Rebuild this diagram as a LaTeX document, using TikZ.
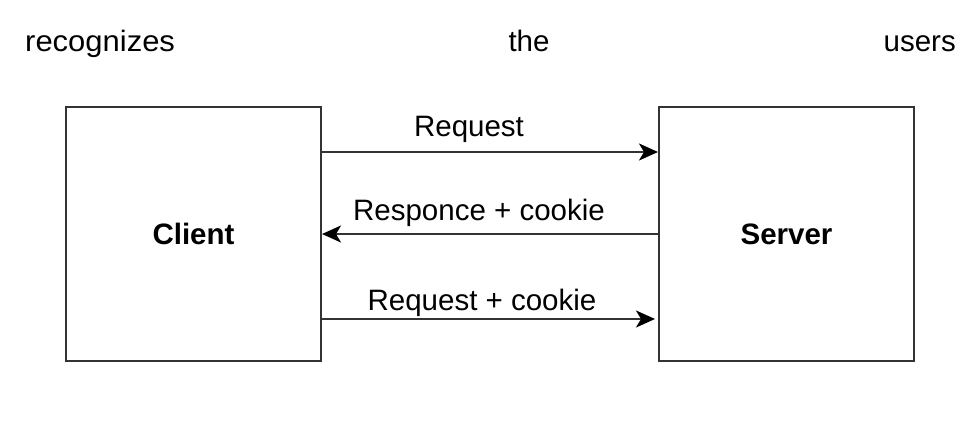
\documentclass[tikz,border=0pt]{standalone}
\usepackage{fontspec}
\setmainfont{Liberation Sans}
\usetikzlibrary{positioning,calc,arrows.meta}
\tikzset{
	box/.style={draw=black!80,line width=2pt,minimum width=255pt,minimum height=254pt,inner sep=0pt,font=\fontsize{29.5}{35}\selectfont\bfseries},
	msg/.style={draw=black!80,line width=2pt,-{Stealth[length=19pt,width=17pt,inset=5pt,black]}},
	lbl/.style={inner sep=0pt,anchor=base,font=\fontsize{29.5}{35}\selectfont}
}

\begin{document}
\begin{tikzpicture}[x=1pt,y=-1pt]
\useasboundingbox (0,0) rectangle (974,421);

%Ligne du haut
\node[lbl,anchor=base west,xscale=1.05] (w1) at (25,51) {recognizes};
\node[lbl] (w2) at (529,51) {the};
\node[lbl,anchor=base east] (w3) at (956,51) {users};

%Boites
\node[box,text depth=0pt] (client) at (193.5,234) {Client};
\node[box,text depth=0pt] (server) at (786.5,234) {Server};

%Fleches
\draw[msg] ([yshift=82pt]client.east) -- ([yshift=82pt]server.west);
\draw[msg] (server.west) -- (client.east);
\draw[msg] ([yshift=-85pt]client.east) -- ([yshift=-85pt,xshift=-3pt]server.west);

%Etiquettes
\node[lbl] (l1) at (469,136) {Request};
\node[lbl] (l2) at (479,220) {Responce + cookie};
\node[lbl] (l3) at (482,310) {Request + cookie};

\end{tikzpicture}
\end{document}
